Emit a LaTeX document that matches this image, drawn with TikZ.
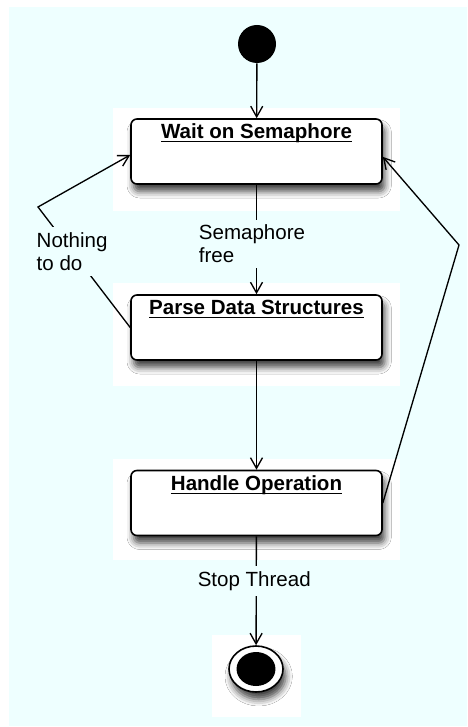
\documentclass[tikz,border=0pt]{standalone}
\usepackage{fontspec}
\setmainfont{Liberation Sans}
\usetikzlibrary{arrows.meta,shapes.geometric,shadows.blur}
\definecolor{bgc}{RGB}{238,255,255}
\newsavebox\ulbx
\newcommand\ultxt[1]{\sbox\ulbx{#1}\rlap{\rule[-2.8pt]{\wd\ulbx}{1pt}}\usebox\ulbx}
\begin{document}
\begin{tikzpicture}[x=0.75pt,y=-0.75pt,
  shad/.style={blur shadow={shadow xshift=2pt, shadow yshift=-5.5pt, shadow blur radius=5pt, shadow opacity=75}},
  state/.style={draw, line width=1.2pt, fill=white, rounded corners=4.5pt, minimum width=188.25pt, minimum height=48.75pt, inner sep=0pt, shad},
  title/.style={anchor=north, inner sep=0pt, yshift=-4pt, font=\bfseries\fontsize{15.4}{18}\selectfont},
  conn/.style={line width=1pt, -{Straight Barb[length=8pt,width=9pt]}},
  lbl/.style={fill=bgc, inner xsep=1pt, inner ysep=4pt, align=left, font=\fontsize{15.4}{17.25}\selectfont}]
\useasboundingbox (0,0) rectangle (467,727);
\fill[bgc] (9,7) rectangle (467,726);
\fill[white] (113,108) rectangle (400,211);
\fill[white] (113,283) rectangle (400,386);
\fill[white] (113,459) rectangle (400,560);
\fill[white] (212,635) rectangle (301,717);

\node[circle, fill=black, minimum size=28.5pt, inner sep=0pt] (init) at (257,44) {};
\node[state, label={[title]north:\ultxt{Wait on Semaphore}}] (wait) at (256.5,151.5) {};
\node[state, label={[title]north:\ultxt{Parse Data Structures}}] (parse) at (256.5,327.5) {};
\node[state, label={[title]north:\ultxt{Handle Operation}}] (handle) at (256.5,503) {};
\node[ellipse, draw, line width=1.2pt, fill=white, minimum width=40.5pt, minimum height=34.5pt, inner sep=0pt, shad] (final) at (256,669) {};
\fill (final.center) ellipse [x radius=14.6pt, y radius=12.75pt];

\coordinate (lb) at (38,207);
\coordinate (rb) at (459,245);

\draw[conn] (init) -- (wait);
\draw[conn] (wait) -- node[lbl, pos=0.54, xshift=-3.4pt] {Semaphore\\free} (parse);
\draw[conn] (parse) -- (handle);
\draw[conn] (handle) -- node[lbl, pos=0.41, xshift=-1.5pt] {Stop Thread} (final);
\draw[conn] (parse.west) -- node[lbl, pos=0.63] {Nothing\\to do} (lb) -- ([yshift=-2.6pt]wait.west);
\draw[conn] (handle.east) -- (rb) -- ([yshift=-4pt]wait.east);
\end{tikzpicture}
\end{document}
